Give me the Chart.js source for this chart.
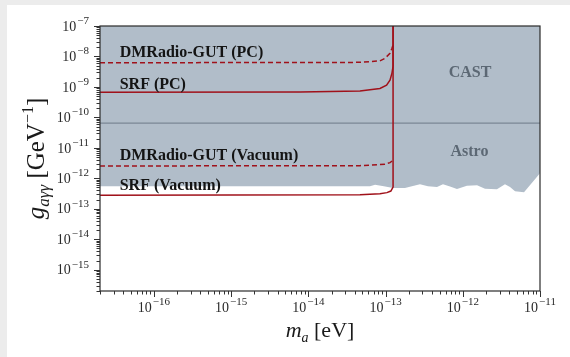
<!DOCTYPE html>
<html>
<head>
<meta charset="utf-8">
<script src="https://cdn.jsdelivr.net/npm/chart.js@4.4.1/dist/chart.umd.min.js"></script>
<style>
  html, body { margin: 0; padding: 0; background: #ececec; }
  #wrap { position: absolute; left: 7px; top: 5px; width: 563px; height: 352px; background: #fff; }
  canvas { display: block; }
</style>
</head>
<body>
<div id="wrap"><canvas id="chart" width="563" height="352"></canvas></div>
<script>
// axis ranges
const massRange = [2e-17, 1e-11];
const couplingRange = [2e-16, 1e-7];
const xTickExponents = [-16, -15, -14, -13, -12, -11];
const yTickExponents = [-15, -14, -13, -12, -11, -10, -9, -8, -7];

// excluded region (CAST + astrophysics), lower edge
const astroMass = [2e-17, 6.28e-14, 7.3e-14, 9.5e-14, 1.25e-13, 1.78e-13, 2.79e-13, 3.54e-13, 4.63e-13,
  5.54e-13, 6.83e-13, 8.41e-13, 1.13e-12, 1.53e-12, 1.94e-12, 2.77e-12, 3.52e-12, 4.09e-12, 4.75e-12,
  6.21e-12, 1e-11];
const astroG = [5.5e-13, 5.5e-13, 6.1e-13, 5.5e-13, 4.8e-13, 4.8e-13, 6.35e-13, 5.46e-13, 5.2e-13,
  6.35e-13, 5.37e-13, 4.45e-13, 5.67e-13, 5.9e-13, 4.58e-13, 4.35e-13, 6.35e-13, 5.2e-13, 3.73e-13,
  3.47e-13, 1.46e-12];

const castMass = [2e-17, 1e-11];
const castG = [6.5e-11, 6.5e-11];

// projected sensitivities
const dmPcMass = [2e-17, 4.66e-14, 8.45e-14, 9.8e-14, 1.14e-13, 1.21e-13, 1.25e-13];
const dmPcG = [6.2e-9, 6.4e-9, 7.2e-9, 8.65e-9, 1.26e-8, 1.85e-8, 2.37e-8];

const srfPcMass = [2e-17, 7.8e-15, 4.66e-14, 8.45e-14, 1.03e-13, 1.14e-13, 1.21e-13, 1.25e-13, 1.25e-13];
const srfPcG = [6.75e-10, 6.8e-10, 7.4e-10, 8.9e-10, 1.15e-9, 1.67e-9, 2.84e-9, 4.8e-9, 1e-7];

const dmVacMass = [2e-17, 4.66e-14, 9.8e-14, 1.14e-13, 1.25e-13];
const dmVacG = [2.54e-12, 2.6e-12, 2.9e-12, 3.28e-12, 3.9e-12];

const srfVacMass = [2e-17, 4.66e-14, 8.45e-14, 1.04e-13, 1.17e-13, 1.25e-13, 1.25e-13];
const srfVacG = [2.76e-13, 2.91e-13, 3.14e-13, 3.39e-13, 3.82e-13, 5.18e-13, 1e-7];

// text annotations (data coordinates)
const curveLabels = ["DMRadio-GUT (PC)", "SRF (PC)", "DMRadio-GUT (Vacuum)", "SRF (Vacuum)"];
const curveLabelMass = [3.6e-17, 3.6e-17, 3.6e-17, 3.6e-17];
const curveLabelG = [1.34e-8, 1.18e-9, 5.4e-12, 5.5e-13];
const regionLabels = ["CAST", "Astro"];
const regionLabelMass = [1.24e-12, 1.22e-12];
const regionLabelG = [2.9e-9, 7.3e-12];

const RED = "#a0111a";
const FILL = "#b1bdc9";
const SERIF = "'Liberation Serif', 'DejaVu Serif', serif";

const pts = (xs, ys) => xs.map((x, i) => ({ x: x, y: ys[i] }));

function drawPow(ctx, base, exp, x, y, align, size, expSize) {
  ctx.font = size + "px " + SERIF;
  const wb = ctx.measureText(base).width;
  ctx.font = expSize + "px " + SERIF;
  const we = ctx.measureText(exp).width;
  const total = wb + we + 1;
  let left = x;
  if (align === "center") left = x - total / 2;
  if (align === "right") left = x - total;
  ctx.textBaseline = "middle";
  ctx.textAlign = "left";
  ctx.font = size + "px " + SERIF;
  ctx.fillText(base, left, y);
  ctx.font = expSize + "px " + SERIF;
  ctx.fillText(exp, left + wb + 1, y - size * 0.42);
}

const decorations = {
  id: "decorations",
  afterDatasetsDraw(chart) {
    const ctx = chart.ctx;
    const a = chart.chartArea;
    const xs = chart.scales.x;
    const ys = chart.scales.y;
    ctx.save();

    // annotations
    ctx.font = "bold 16px " + SERIF;
    ctx.textAlign = "left";
    ctx.textBaseline = "middle";
    ctx.fillStyle = "#141414";
    curveLabels.forEach((t, i) => {
      ctx.fillText(t, xs.getPixelForValue(curveLabelMass[i]), ys.getPixelForValue(curveLabelG[i]));
    });
    ctx.fillStyle = "#5c6874";
    ctx.textAlign = "center";
    regionLabels.forEach((t, i) => {
      ctx.fillText(t, xs.getPixelForValue(regionLabelMass[i]), ys.getPixelForValue(regionLabelG[i]));
    });

    // frame
    ctx.strokeStyle = "#2a2a2a";
    ctx.lineWidth = 1.2;
    ctx.strokeRect(a.left, a.top, a.right - a.left, a.bottom - a.top);

    // ticks
    ctx.lineWidth = 1;
    ctx.strokeStyle = "#333";
    for (let e = -17; e <= -11; e++) {
      for (let m = 1; m <= 9; m++) {
        const v = m * Math.pow(10, e);
        if (v < massRange[0] * 0.999 || v > massRange[1] * 1.001) continue;
        const px = Math.round(xs.getPixelForValue(v)) + 0.5;
        ctx.beginPath();
        ctx.moveTo(px, a.bottom);
        ctx.lineTo(px, a.bottom + (m === 1 ? 6 : 3.5));
        ctx.stroke();
      }
    }
    for (let e = -16; e <= -7; e++) {
      for (let m = 1; m <= 9; m++) {
        const v = m * Math.pow(10, e);
        if (v < couplingRange[0] * 0.999 || v > couplingRange[1] * 1.001) continue;
        const py = Math.round(ys.getPixelForValue(v)) + 0.5;
        ctx.beginPath();
        ctx.moveTo(a.left, py);
        ctx.lineTo(a.left - (m === 1 ? 6 : 3.5), py);
        ctx.stroke();
      }
    }

    // tick labels
    ctx.fillStyle = "#2a2a2a";
    xTickExponents.forEach(e => {
      drawPow(ctx, "10", "\u2212" + Math.abs(e), xs.getPixelForValue(Math.pow(10, e)), a.bottom + 17, "center", 14, 11);
    });
    yTickExponents.forEach(e => {
      drawPow(ctx, "10", "\u2212" + Math.abs(e), a.left - 11, ys.getPixelForValue(Math.pow(10, e)) + 1, "right", 14, 11);
    });

    // x title: m_a [eV]
    ctx.fillStyle = "#1a1a1a";
    ctx.textBaseline = "alphabetic";
    ctx.textAlign = "left";
    const xParts = [["italic 22px ", "m", 0], ["italic 14px ", "a", 5], ["22px ", " [eV]", 0]];
    let w = 0;
    xParts.forEach(p => { ctx.font = p[0] + SERIF; w += ctx.measureText(p[1]).width; });
    let cx = (a.left + a.right) / 2 - w / 2;
    const by = a.bottom + 46;
    xParts.forEach(p => {
      ctx.font = p[0] + SERIF;
      ctx.fillText(p[1], cx, by + p[2]);
      cx += ctx.measureText(p[1]).width;
    });

    // y title: g_{aγγ} [GeV^-1]
    const yParts = [["italic 25px ", "g", 0], ["italic 17px ", "a\u03b3\u03b3", 5], ["25px ", " [GeV", 0],
      ["16px ", "\u22121", -11], ["25px ", "]", 0]];
    w = 0;
    yParts.forEach(p => { ctx.font = p[0] + SERIF; w += ctx.measureText(p[1]).width; });
    ctx.translate(37, (a.top + a.bottom) / 2);
    ctx.rotate(-Math.PI / 2);
    cx = -w / 2;
    yParts.forEach(p => {
      ctx.font = p[0] + SERIF;
      ctx.fillText(p[1], cx, p[2]);
      cx += ctx.measureText(p[1]).width;
    });
    ctx.restore();
  }
};

const solidStyle = { pointRadius: 0, tension: 0, fill: false, borderColor: RED, borderWidth: 1.5, order: 1 };
const dashedStyle = { pointRadius: 0, tension: 0, fill: false, borderColor: RED, borderWidth: 1.5, order: 2,
  borderDash: [5, 3] };

new Chart(document.getElementById("chart"), {
  type: "line",
  data: {
    datasets: [
      { label: "Astro", data: pts(astroMass, astroG), pointRadius: 0, borderWidth: 0,
        borderColor: FILL, backgroundColor: FILL, fill: "end", order: 10 },
      { label: "CAST", data: pts(castMass, castG), pointRadius: 0, borderWidth: 1.2,
        borderColor: "#7b8794", fill: false, order: 9 },
      Object.assign({ label: "DMRadio-GUT (PC)", data: pts(dmPcMass, dmPcG) }, dashedStyle),
      Object.assign({ label: "SRF (PC)", data: pts(srfPcMass, srfPcG) }, solidStyle),
      Object.assign({ label: "DMRadio-GUT (Vacuum)", data: pts(dmVacMass, dmVacG) }, dashedStyle),
      Object.assign({ label: "SRF (Vacuum)", data: pts(srfVacMass, srfVacG) }, solidStyle)
    ]
  },
  options: {
    responsive: false,
    animation: false,
    layout: { padding: { top: 21, right: 30, left: 0, bottom: 0 } },
    plugins: { legend: { display: false }, tooltip: { enabled: false } },
    scales: {
      x: {
        type: "logarithmic", min: massRange[0], max: massRange[1],
        ticks: { display: false }, grid: { display: false }, border: { display: false },
        afterFit: s => { s.height = 66; }
      },
      y: {
        type: "logarithmic", min: couplingRange[0], max: couplingRange[1],
        ticks: { display: false }, grid: { display: false }, border: { display: false },
        afterFit: s => { s.width = 93; }
      }
    }
  },
  plugins: [decorations]
});
</script>
</body>
</html>
